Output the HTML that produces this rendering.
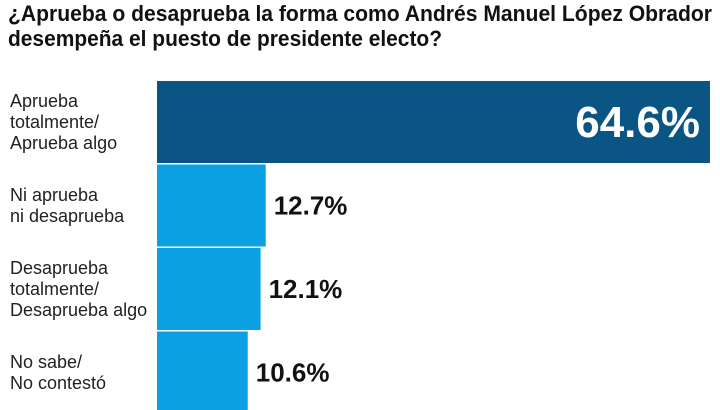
<!DOCTYPE html>
<html><head><meta charset="utf-8"><style>
html,body{margin:0;padding:0;background:#fff;width:720px;height:410px;overflow:hidden}
svg{display:block}
text{font-family:"Liberation Sans Narrow","Liberation Sans",sans-serif}
</style></head><body>
<svg id="chart" width="720" height="410" viewBox="0 0 720 410">
<text x="8" y="21" font-size="22" font-weight="bold" fill="#111" textLength="704" lengthAdjust="spacingAndGlyphs">¿Aprueba o desaprueba la forma como Andrés Manuel López Obrador</text>
<text x="8" y="46" font-size="22" font-weight="bold" fill="#111" textLength="434" lengthAdjust="spacingAndGlyphs">desempeña el puesto de presidente electo?</text>
<g id="bars"></g>
</svg>
<script>
const categories = [["Aprueba","totalmente/","Aprueba algo"],["Ni aprueba","ni desaprueba"],["Desaprueba","totalmente/","Desaprueba algo"],["No sabe/","No contestó"]];
const values = [64.6, 12.7, 12.1, 10.6];
const valueLabels = ["64.6%","12.7%","12.1%","10.6%"];
const ns = "http://www.w3.org/2000/svg";
const g = document.getElementById("bars");
const x0 = 157, pxPerUnit = 553/64.6;
const xScale = v => v * pxPerUnit;
const yTop = i => 81 + i * 83.5;
const bh = 82;
function mk(tag, attrs){const e=document.createElementNS(ns,tag);for(const k in attrs)e.setAttribute(k,attrs[k]);return e;}
values.forEach((v,i)=>{
  const y = yTop(i), w = xScale(v);
  const r = mk("rect",{x:x0,y:y,width:w,height:bh,fill:i===0?"#0b5585":"#0aa0e2"});
  
  
  g.appendChild(r);
  const lines = categories[i];
  const lh = 21, cy = y + bh/2;
  lines.forEach((ln,j)=>{
    const t = mk("text",{x:10,y:cy - (lines.length-1)*lh/2 + j*lh + 6,"font-size":"18",fill:"#222"});
    t.textContent = ln;
    
    
    g.appendChild(t);
  });
  let t;
  if (i===0){
    t = mk("text",{x:x0+w-10,y:cy+15,"font-size":"44","font-weight":"bold",fill:"#fff","text-anchor":"end"});
  } else {
    t = mk("text",{x:x0+w+8,y:cy+9,"font-size":"26","font-weight":"bold",fill:"#111"});
  }
  t.textContent = valueLabels[i];
  
  
  g.appendChild(t);
});
</script>
</body></html>
